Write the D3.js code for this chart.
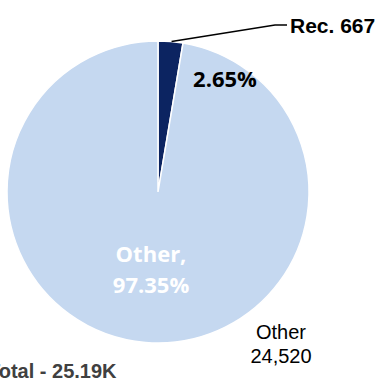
<!DOCTYPE html>
<html>
<head>
<meta charset="utf-8">
<script src="https://cdn.jsdelivr.net/npm/d3@7"></script>
<style>
  body { margin: 0; background: #fff; }
  svg { display: block; }
</style>
</head>
<body>
<svg id="chart"></svg>
<script>
const categories = ['Rec.', 'Other'];
const values = [667, 24520];
const colors = ['#0c2461', '#c5d8f0'];
const totalLabel = 'Total - 25.19K';

const width = 377, height = 383;
const cx = 158, cy = 192, radius = 151;

const svg = d3.select('#chart')
  .attr('width', width)
  .attr('height', height);

const g = svg.append('g')
  .attr('transform', `translate(${cx},${cy})`);

const total = d3.sum(values);
const pie = d3.pie().sort(null).value(d => d)(values);
const arc = d3.arc().innerRadius(0).outerRadius(radius);

g.selectAll('path')
  .data(pie)
  .join('path')
  .attr('d', arc)
  .attr('fill', (d, i) => colors[i])
  .attr('stroke', '#fff')
  .attr('stroke-width', 1.5);

const pct = v => (v / total * 100).toFixed(2) + '%';
const fmt = d3.format(',');

// small slice: percent in the light area, name + value outside with a leader
const s0 = pie[0];
const mid0 = (s0.startAngle + s0.endAngle) / 2;
const px = Math.sin(mid0) * radius, py = -Math.cos(mid0) * radius;

g.append('text')
  .attr('x', 67).attr('y', -105)
  .attr('text-anchor', 'middle')
  .attr('font-family', 'Open Sans, Lato, sans-serif')
  .attr('font-weight', 'bold')
  .attr('font-size', 22)
  .attr('fill', '#000')
  .text(pct(values[0]));

g.append('polyline')
  .attr('points', [[px + 1, py], [117, -167], [129, -167]].map(p => p.join(',')).join(' '))
  .attr('fill', 'none')
  .attr('stroke', '#000')
  .attr('stroke-width', 1.5);

g.append('text')
  .attr('x', 132).attr('y', -159)
  .attr('font-family', 'Liberation Sans, Arial, sans-serif')
  .attr('font-weight', 'bold')
  .attr('font-size', 21)
  .attr('fill', '#000')
  .text(`${categories[0]} ${values[0]}`);

// big slice: white label inside
const inner = g.append('text')
  .attr('text-anchor', 'middle')
  .attr('font-family', 'Open Sans, Lato, sans-serif')
  .attr('font-weight', 'bold')
  .attr('font-size', 22)
  .attr('fill', '#fff');
inner.append('tspan').attr('x', -7).attr('y', 70).text(categories[1] + ',');
inner.append('tspan').attr('x', -7).attr('y', 101).text(pct(values[1]));

// big slice: name and value outside
const outer = g.append('text')
  .attr('text-anchor', 'middle')
  .attr('font-family', 'Liberation Sans, Arial, sans-serif')
  .attr('font-size', 20)
  .attr('fill', '#000');
outer.append('tspan').attr('x', 123).attr('y', 147).text(categories[1]);
outer.append('tspan').attr('x', 123).attr('y', 171).text(fmt(values[1]));

svg.append('text')
  .attr('x', -12).attr('y', 378)
  .attr('font-family', 'Liberation Sans, Arial, sans-serif')
  .attr('font-weight', 'bold')
  .attr('font-size', 20)
  .attr('fill', '#404040')
  .text(totalLabel);
</script>
</body>
</html>
